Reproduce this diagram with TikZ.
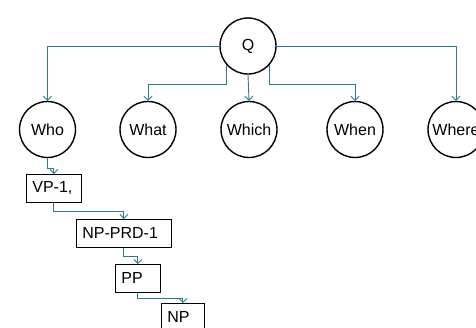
\documentclass[tikz,border=0pt]{standalone}
\usepackage{fontspec}
\setmainfont{Liberation Sans}
\usetikzlibrary{arrows.meta}
\definecolor{conncol}{RGB}{42,125,142}
\tikzset{
  qcircle/.style={circle, draw=black, line width=1.4pt, minimum size=56pt, inner sep=0pt, font=\fontsize{16}{19}\selectfont},
  tbox/.style={rectangle, draw=black, line width=0.8pt, anchor=north west, minimum height=28pt, inner xsep=6pt, inner ysep=0pt, align=left, font=\fontsize{16}{19}\selectfont},
  conn/.style={draw=conncol, line width=0.9pt, -{Straight Barb[length=4pt,width=8pt]}}
}
\begin{document}
\begin{tikzpicture}[x=1pt,y=-1pt]
\useasboundingbox (0,0) rectangle (476,327);
\clip (0,0) rectangle (476,327);
\fill[white] (0,0) rectangle (476,327);
\node[qcircle] (Q) at (248,46) {Q};
\node[qcircle] (Who) at (47.5,129.5) {Who};
\node[qcircle] (What) at (148,129.5) {What};
\node[qcircle] (Which) at (249,129.5) {Which};
\node[qcircle] (When) at (355,129.5) {When};
\node[qcircle] (Where) at (456,129.5) {Where};
\coordinate (bus) at (0,84);
\draw[conn] (Q.west) -| (Who.north);
\draw[conn] (Q.east) -| (Where.north);
\draw[conn] (Q.222) |- (What.north |- bus) -- (What.north);
\draw[conn] (Q.south) -- (Which.north);
\draw[conn] (Q.-42) |- (When.north |- bus) -- (When.north);
\node[tbox, text width=43pt] (VP) at (26,174) {VP-1,};
\node[tbox, text width=83pt] (NPPRD) at (76,219) {NP-PRD-1};
\node[tbox, text width=33pt] (PP) at (115,264) {PP};
\node[tbox, text width=31pt] (NP) at (161,303) {NP};
\draw[conn] (Who.south) -- ++(0,10) -| (VP.north);
\draw[conn] (VP.south) -- ++(0,9) -| (NPPRD.north);
\draw[conn] (NPPRD.south) -- ++(0,9) -| (PP.north);
\draw[conn] (PP.south) -- ++(0,6) -| (NP.north);
\end{tikzpicture}
\end{document}
